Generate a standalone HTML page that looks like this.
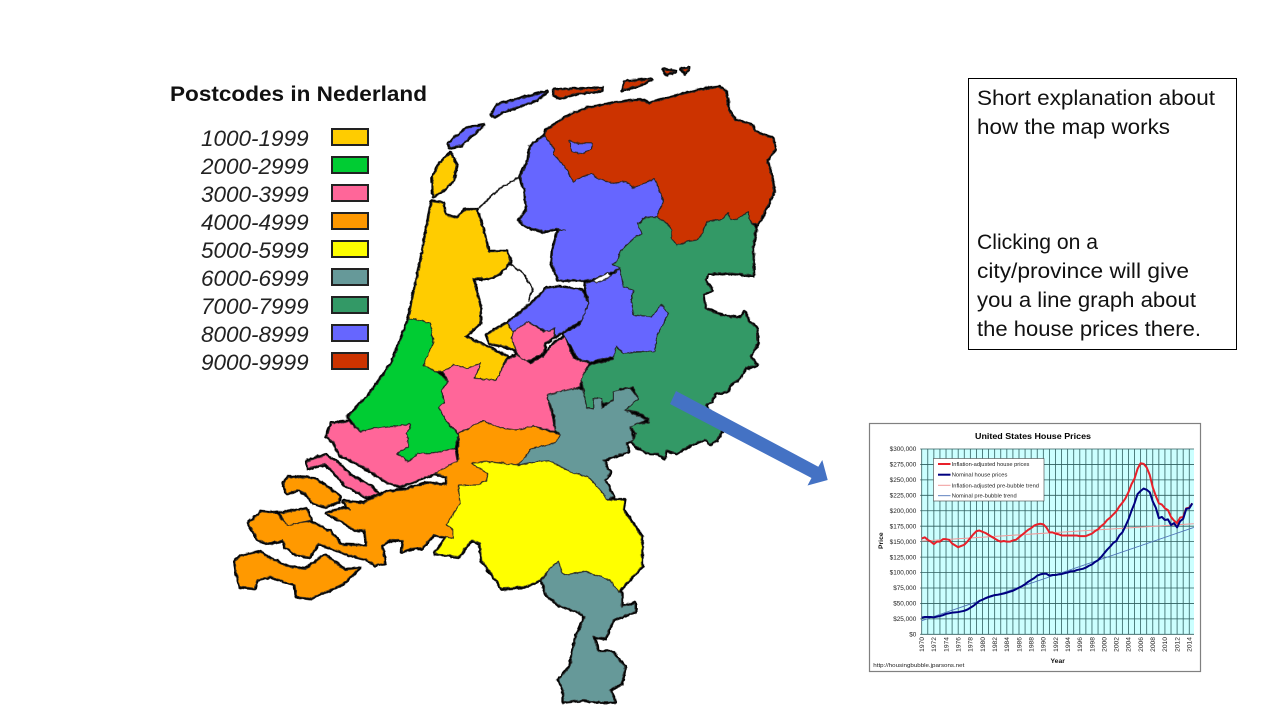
<!DOCTYPE html>
<html lang="en">
<head>
<meta charset="utf-8">
<title>Postcodes in Nederland</title>
<style>
html,body{margin:0;padding:0;background:#fff;}
svg{display:block;font-family:"Liberation Sans",sans-serif;}
.leg{font-style:italic;font-size:22.5px;fill:#222;}
.note{font-size:21px;fill:#111;}
.sw{stroke:#222;stroke-width:2;}
.tick{font-size:6.4px;fill:#222;}
.xtick{font-size:6.7px;fill:#222;}
.ax{font-size:6.8px;font-weight:bold;fill:#111;}
.lt{font-size:5.8px;fill:#222;}
</style>
</head>
<body>
<svg id="slide" width="1280" height="720" viewBox="0 0 1280 720" xmlns="http://www.w3.org/2000/svg">
<defs>
<filter id="rough" filterUnits="userSpaceOnUse" x="-700" y="-100" width="2200" height="2200" color-interpolation-filters="sRGB">
<feTurbulence type="fractalNoise" baseFrequency="0.07" numOctaves="2" seed="4" result="n"/>
<feDisplacementMap in="SourceGraphic" in2="n" scale="9" xChannelSelector="R" yChannelSelector="G" result="d"/>
<feGaussianBlur in="d" stdDeviation="0.9"/>
</filter>
<filter id="soft" filterUnits="userSpaceOnUse" x="0" y="0" width="1280" height="720" color-interpolation-filters="sRGB">
<feGaussianBlur stdDeviation="0.3"/>
</filter>
</defs>
<rect width="1280" height="720" fill="#fff"/>

<g filter="url(#soft)">
<text x="170" y="101" font-size="21.5" font-weight="bold" fill="#111" textLength="257" lengthAdjust="spacingAndGlyphs">Postcodes in Nederland</text>
<text class="leg" x="201" y="146">1000-1999</text><rect class="sw" x="332" y="129" width="36" height="16" fill="#FFCC00"/>
<text class="leg" x="201" y="174">2000-2999</text><rect class="sw" x="332" y="157" width="36" height="16" fill="#00CC33"/>
<text class="leg" x="201" y="202">3000-3999</text><rect class="sw" x="332" y="185" width="36" height="16" fill="#FF6699"/>
<text class="leg" x="201" y="230">4000-4999</text><rect class="sw" x="332" y="213" width="36" height="16" fill="#FF9900"/>
<text class="leg" x="201" y="258">5000-5999</text><rect class="sw" x="332" y="241" width="36" height="16" fill="#FFFF00"/>
<text class="leg" x="201" y="286">6000-6999</text><rect class="sw" x="332" y="269" width="36" height="16" fill="#669999"/>
<text class="leg" x="201" y="314">7000-7999</text><rect class="sw" x="332" y="297" width="36" height="16" fill="#339966"/>
<text class="leg" x="201" y="342">8000-8999</text><rect class="sw" x="332" y="325" width="36" height="16" fill="#6666FF"/>
<text class="leg" x="201" y="370">9000-9999</text><rect class="sw" x="332" y="353" width="36" height="16" fill="#CC3300"/>
</g>

<g transform="translate(400 60) scale(.33333)" stroke-linejoin="round" filter="url(#rough)">
<use href="#regions" stroke="#000" stroke-width="12"/>
<g fill="none" stroke="#111" stroke-width="5">
<path d="M235,445 L300,385 L360,350"/>
<path d="M330,610 L370,640 L398,685 L385,725"/>
</g>
<g stroke="#222" stroke-width="3">
<g id="regions">
<polygon fill="#CC3300" points="440,210 500,170 560,145 640,130 720,120 745,130 820,110 900,90 960,82 978,95 985,150 1005,180 1055,195 1065,215 1118,235 1125,268 1100,300 1115,350 1122,395 1100,440 1072,495 1050,485 1045,455 1010,478 990,480 985,458 970,475 960,480 920,485 905,525 890,540 860,545 830,555 815,535 815,510 800,490 770,470 790,425 765,355 700,385 680,365 640,370 590,355 575,340 545,350 520,365 495,320 462,285 462,265 432,228"/>
<polygon fill="#6666FF" points="432,228 462,265 462,285 495,320 520,365 545,350 575,340 590,355 640,370 680,365 700,385 765,355 790,425 770,470 735,472 715,490 725,520 700,535 660,575 650,605 635,612 660,625 625,640 570,660 475,660 455,610 458,570 475,510 495,510 470,505 430,515 380,500 358,480 380,450 375,390 360,350 385,300 390,260"/>
<polygon fill="#6666FF" points="508,242 535,250 575,250 575,265 550,280 515,275"/>
<polygon fill="#339966" points="720,490 735,472 770,470 800,490 815,510 815,535 830,555 860,545 890,540 905,525 920,485 960,480 970,475 985,458 990,480 1010,478 1045,455 1050,485 1068,505 1058,560 1060,645 1000,640 925,640 915,660 935,690 908,705 915,745 960,765 1020,775 1035,755 1045,785 1070,805 1072,850 1050,890 1070,915 1035,925 1020,955 995,970 980,995 945,1000 935,1025 915,1035 965,1115 950,1140 930,1152 915,1138 870,1155 830,1180 800,1170 792,1195 775,1180 750,1180 715,1165 695,1145 710,1120 685,1095 745,1088 745,1075 720,1058 675,1050 715,1015 700,982 660,985 635,1025 610,1030 600,1015 580,1015 580,1045 560,1045 550,985 542,955 570,915 640,898 645,855 665,878 745,875 765,855 765,835 790,790 805,760 785,735 755,770 700,765 695,725 700,690 670,680 660,625 635,612 650,605 660,575 700,535 725,520 712,490"/>
<polygon fill="#6666FF" points="660,625 670,680 700,690 695,725 700,765 755,770 785,735 805,760 790,790 770,830 765,875 710,875 670,880 650,860 640,890 570,905 545,900 530,890 515,860 495,830 490,820 540,795 565,730 555,670 630,650"/>
<polygon fill="#6666FF" points="320,790 390,735 440,685 475,680 545,690 565,730 545,780 490,815 465,830 465,805 440,815 385,785 340,815"/>
<polygon fill="#fff" points="578,662 625,638 632,650 590,668"/>
<polygon fill="#FFCC00" points="260,825 320,790 340,815 335,835 362,875 320,860 270,850"/>
<polygon fill="#FF6699" points="340,815 385,785 430,815 465,808 462,830 435,850 430,880 375,905 350,880 335,835"/>
<polygon fill="#FFCC00" points="150,280 170,315 160,360 130,390 100,410 98,350 120,310"/>
<polygon fill="#6666FF" points="145,250 200,205 250,195 210,230 185,255 150,262"/>
<polygon fill="#6666FF" points="275,165 290,135 440,95 410,120 310,155 285,170"/>
<polygon fill="#CC3300" points="462,90 605,85 605,92 530,100 480,115 462,105"/>
<polygon fill="#CC3300" points="668,90 675,65 755,58 720,75"/>
<polygon fill="#CC3300" points="790,28 825,35 800,42"/>
<polygon fill="#CC3300" points="845,28 865,25 855,40"/>
<polygon fill="#FFCC00" points="95,425 130,430 135,465 170,475 195,450 230,450 255,530 265,575 320,575 330,605 300,640 265,655 220,655 240,740 240,790 195,830 260,860 320,890 290,960 225,955 240,910 200,925 160,915 130,935 110,935 70,915 100,850 90,790 40,775 25,780 50,660 65,590"/>
<g transform="translate(-240 720)">
<polygon fill="#FF6699" points="370,215 400,195 440,205 480,190 465,235 530,240 560,180 590,165 630,190 670,170 700,130 735,110 760,175 805,190 780,250 780,262 680,290 695,340 705,395 640,378 590,390 545,385 490,362 415,400 380,365 355,320 372,310 365,270 385,245"/>
<polygon fill="#00CC33" points="85,350 150,280 215,190 265,60 280,55 330,70 340,130 310,195 350,215 385,245 365,270 372,310 355,320 380,365 415,405 405,445 340,460 295,460 265,485 230,460 265,440 260,400 272,372 215,380 160,385 120,395 100,370"/>
<polygon fill="#FF6699" points="20,410 35,370 85,365 120,395 160,385 215,380 272,372 260,400 265,440 230,460 265,485 295,460 340,460 405,445 412,490 345,520 240,560 200,545 130,500 60,465 40,425"/>
</g>
<g transform="translate(-510 840)">
<polygon fill="#FF9900" points="685,280 760,242 815,265 860,270 910,258 990,285 975,310 905,325 865,375 815,370 770,365 725,370 775,400 770,420 745,435 685,435 690,490 650,555 670,570 670,595 640,590 610,585 575,625 545,625 515,635 520,600 480,600 455,615 465,670 435,675 415,660 350,642 305,625 265,610 240,650 200,645 165,620 160,600 115,610 85,600 55,550 95,515 140,520 170,555 240,545 270,560 300,575 335,615 410,618 405,570 375,570 330,540 290,520 340,505 360,510 340,485 400,490 470,455 520,450 590,430 650,435 650,410 615,400 685,360"/>
<polygon fill="#FF9900" points="150,520 230,507 243,540 170,557"/>
<polygon fill="#FF9900" points="160,430 175,412 250,415 290,440 330,470 325,485 285,500 250,490 225,460 205,450 170,460"/>
<polygon fill="#FF9900" points="15,665 30,650 90,635 110,650 170,680 225,688 285,645 345,690 388,685 340,730 300,750 240,775 200,770 195,735 120,710 80,720 75,745 30,740 20,700"/>
<polygon fill="#FF6699" points="230,365 285,345 320,365 360,405 420,437 445,462 410,472 345,435 310,395 285,372 235,385"/>
<polygon fill="#FFFF00" points="725,370 770,365 815,370 865,375 915,365 960,362 1020,395 1075,410 1120,460 1130,480 1185,480 1180,510 1235,590 1235,680 1165,755 1140,720 1065,695 1000,705 985,665 965,680 930,720 885,740 815,745 755,660 750,610 725,600 685,650 615,640 650,590 670,595 670,570 650,555 690,490 685,435 745,435 770,420 775,400"/>
<polygon fill="#669999" points="950,165 1030,145 1060,150 1070,205 1090,205 1090,175 1115,175 1115,205 1150,180 1150,155 1200,145 1225,175 1185,210 1250,240 1200,260 1210,300 1190,310 1195,335 1120,360 1140,400 1125,420 1150,470 1130,480 1120,460 1075,410 1020,395 960,362 915,365 865,375 905,325 975,310 990,285 975,270 975,230"/>
<polygon fill="#669999" points="935,720 965,680 985,665 1000,705 1065,695 1140,720 1165,755 1175,760 1175,800 1215,790 1215,815 1150,840 1125,895 1090,890 1105,935 1145,935 1185,980 1175,1030 1140,1050 1155,1085 1095,1085 1060,1080 1000,1085 1000,1050 985,1020 1020,980 1035,900 1065,830 1045,815 985,795 950,765"/>
</g>
</g>
</g>
</g>

<polygon fill="#4472C4" points="676,391 670,404 811.5,478 807.5,485.5 827.7,480 822.3,460 818.3,466.7"/>

<g>
<rect x="968.5" y="78.5" width="268" height="271" fill="#fff" stroke="#000" stroke-width="1"/>
<text class="note" x="977" y="105" textLength="238" lengthAdjust="spacingAndGlyphs">Short explanation about</text>
<text class="note" x="977" y="134" textLength="193" lengthAdjust="spacingAndGlyphs">how the map works</text>
<text class="note" x="977" y="249" textLength="121" lengthAdjust="spacingAndGlyphs">Clicking on a</text>
<text class="note" x="977" y="278" textLength="212" lengthAdjust="spacingAndGlyphs">city/province will give</text>
<text class="note" x="977" y="307" textLength="219" lengthAdjust="spacingAndGlyphs">you a line graph about</text>
<text class="note" x="977" y="336" textLength="224" lengthAdjust="spacingAndGlyphs">the house prices there.</text>
</g>

<g id="inset-chart" filter="url(#soft)">
<rect x="869.5" y="423.5" width="331" height="248" fill="#fff" stroke="#808080" stroke-width="1.2"/>
<text x="975" y="439" font-size="8.6" font-weight="bold" fill="#000" textLength="116" lengthAdjust="spacingAndGlyphs">United States House Prices</text>
<rect x="921.7" y="449" width="272.3" height="185.3" fill="#CCFFFF"/>
<g id="grid"></g>
<g id="axis-labels"></g>
<g id="series"></g>
<text class="ax" transform="translate(883 549) rotate(-90)">Price</text>
<text class="ax" x="1050.5" y="663">Year</text>
<text x="873.3" y="667" font-size="5.5" fill="#222" textLength="91" lengthAdjust="spacingAndGlyphs">http://housingbubble.jparsons.net</text>
<g>
<rect x="933.5" y="458.5" width="110.5" height="42.5" fill="#fff" stroke="#444" stroke-width=".6"/>
<line x1="938" x2="950.5" y1="464" y2="464" stroke="#E8202A" stroke-width="2"/>
<text class="lt" x="951.7" y="466" textLength="77.7" lengthAdjust="spacingAndGlyphs">Inflation-adjusted house prices</text>
<line x1="938" x2="950.5" y1="474.7" y2="474.7" stroke="#000080" stroke-width="2"/>
<text class="lt" x="951.7" y="476.7" textLength="55.7" lengthAdjust="spacingAndGlyphs">Nominal house prices</text>
<line x1="938" x2="950.5" y1="485.3" y2="485.3" stroke="#F09A9A" stroke-width="1"/>
<text class="lt" x="951.7" y="487.3" textLength="87.3" lengthAdjust="spacingAndGlyphs">Inflation-adjusted pre-bubble trend</text>
<line x1="938" x2="950.5" y1="495.7" y2="495.7" stroke="#4F74B8" stroke-width=".9"/>
<text class="lt" x="951.7" y="497.7" textLength="65" lengthAdjust="spacingAndGlyphs">Nominal pre-bubble trend</text>
</g>
</g>
</svg>

<script>
const priceTicks = [0,25000,50000,75000,100000,125000,150000,175000,200000,225000,250000,275000,300000];
const yearTicks = [1970,1972,1974,1976,1978,1980,1982,1984,1986,1988,1990,1992,1994,1996,1998,2000,2002,2004,2006,2008,2010,2012,2014];
const gridYears = [1970,1971,1972,1973,1974,1975,1976,1977,1978,1979,1980,1981,1982,1983,1984,1985,1986,1987,1988,1989,1990,1991,1992,1993,1994,1995,1996,1997,1998,1999,2000,2001,2002,2003,2004,2005,2006,2007,2008,2009,2010,2011,2012,2013,2014];
const seriesStartYear = 1970;
const seriesStepYears = 0.5;
const realPrices = [155,157,153,150,146,150,150,154,154,153,147,144,141,143,145,150,156,162,167,168,166,164,161,158,155,152,150,151,150,150,152,153,157,161,165,169,172,176,178,179,178,173,165,165,163,162,160,160,160,160,160,160,159,159,159,161,163,167,170,175,179,185,189,194,199,207,213,220,230,243,252,268,277,276,270,258,238,224,212,210,204,201,190,184,180,189,190,204,205,212];
const nominalPrices = [27,28,28,28,27.5,28.5,29.5,31,33,34,35,35.5,36,37,38,40,43,46,50,54,56,58.5,60.5,62,63.5,64,65,66,67.5,69,70.5,73,75.5,78,81,85,88,91,95,97,98,98,95,96,96,97,97.5,99,100,102,102,104,105,106,108,111,113,117,120,125,131,137,142,148,151,160,165,175,186,200,212,227,232,236,234,230,215,205,188,190,185,186,177,180,173,183,187,203,204,212];
const trendYears = [1970,2014.75];
const realTrend = [151,179];
const nominalTrend = [22,173];

const NS = 'http://www.w3.org/2000/svg';
const PLOT = {left:921.7, right:1194, top:449, bottom:634.3, xMin:1970, xMax:2014.78, yMin:0, yMax:300000};
function xScale(year){ return PLOT.left + (year - PLOT.xMin) / (PLOT.xMax - PLOT.xMin) * (PLOT.right - PLOT.left); }
function yScale(price){ return PLOT.bottom - (price - PLOT.yMin) / (PLOT.yMax - PLOT.yMin) * (PLOT.bottom - PLOT.top); }
function money(v){ return '$' + v.toLocaleString('en-US'); }

const gridLayer = document.getElementById('grid');
const labelLayer = document.getElementById('axis-labels');
const seriesLayer = document.getElementById('series');

gridYears.forEach(function(year){
  const el = document.createElementNS(NS,'line');
  
  
  el.setAttribute('x1', xScale(year));
  el.setAttribute('x2', xScale(year));
  el.setAttribute('y1', PLOT.top);
  el.setAttribute('y2', PLOT.bottom);
  el.setAttribute('stroke', '#2F5F5F');
  el.setAttribute('stroke-width', '.8');
  gridLayer.appendChild(el);
});
priceTicks.forEach(function(price){
  const el = document.createElementNS(NS,'line');
  
  
  el.setAttribute('x1', PLOT.left - 1.5);
  el.setAttribute('x2', PLOT.right);
  el.setAttribute('y1', yScale(price));
  el.setAttribute('y2', yScale(price));
  el.setAttribute('stroke', '#2F5F5F');
  el.setAttribute('stroke-width', '.8');
  gridLayer.appendChild(el);
  const label = document.createElementNS(NS,'text');
  
  
  label.setAttribute('class', 'tick');
  label.setAttribute('x', 916.3);
  label.setAttribute('y', yScale(price) + 2.2);
  label.setAttribute('text-anchor', 'end');
  label.textContent = money(price);
  labelLayer.appendChild(label);
});
yearTicks.forEach(function(year){
  const label = document.createElementNS(NS,'text');
  
  
  label.setAttribute('class', 'xtick');
  label.setAttribute('transform', 'translate(' + (xScale(year) + 2.3) + ' 637) rotate(-90)');
  label.setAttribute('text-anchor', 'end');
  label.textContent = String(year);
  labelLayer.appendChild(label);
});

function drawLine(years, values, color, width, name){
  const pts = values.map(function(v, i){ return xScale(years(i)).toFixed(2) + ',' + yScale(v * 1000).toFixed(2); }).join(' ');
  const el = document.createElementNS(NS,'polyline');
  
  
  el.setAttribute('points', pts);
  el.setAttribute('fill', 'none');
  el.setAttribute('stroke', color);
  el.setAttribute('stroke-width', width);
  el.setAttribute('stroke-linejoin', 'round');
  seriesLayer.appendChild(el);
}
function halfYear(i){ return seriesStartYear + i * seriesStepYears; }
function trendYear(i){ return trendYears[i]; }
drawLine(trendYear, realTrend, '#F09A9A', 1, 'real-trend-line');
drawLine(trendYear, nominalTrend, '#4F74B8', .9, 'nominal-trend-line');
drawLine(halfYear, realPrices, '#E8202A', 2, 'real-price-line');
drawLine(halfYear, nominalPrices, '#000080', 2, 'nominal-price-line');
</script>
</body>
</html>
